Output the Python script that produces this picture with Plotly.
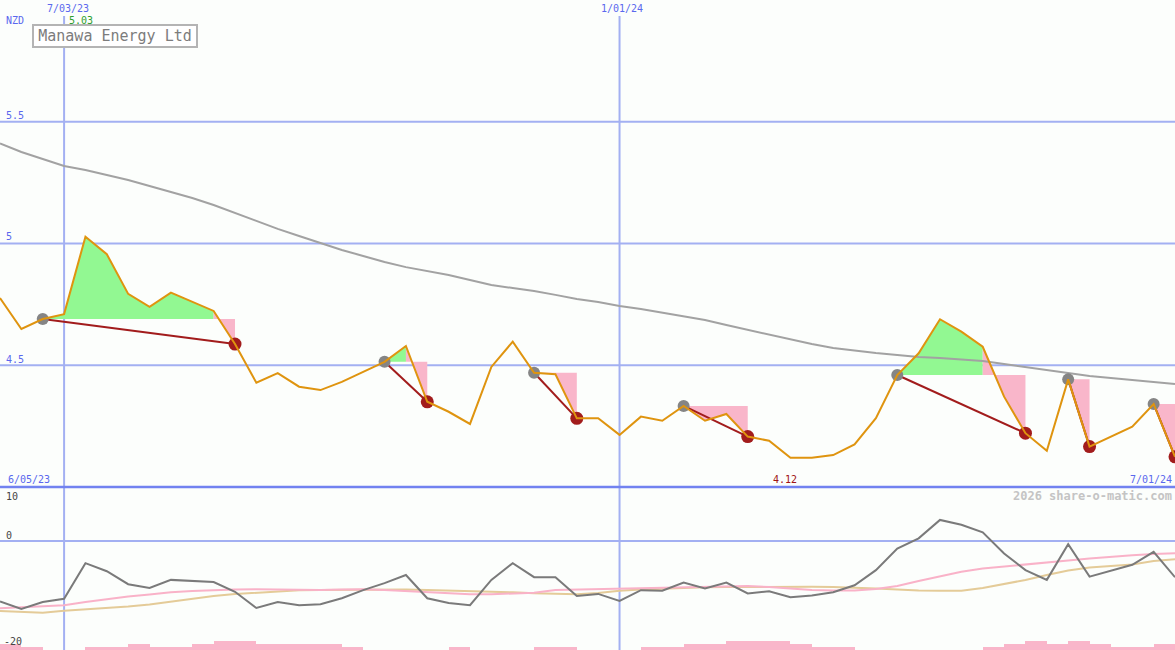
import pandas as pd
import plotly.graph_objects as go

# ---------------- data ----------------
dates = pd.date_range("2023-06-12", periods=56, freq="7D")

price = [4.776, 4.649, 4.690, 4.710, 5.028, 4.956, 4.793, 4.740, 4.798, 4.761,
         4.723, 4.587, 4.428, 4.468, 4.412, 4.398, 4.432, 4.473, 4.514, 4.579,
         4.350, 4.309, 4.259, 4.493, 4.597, 4.469, 4.463, 4.282, 4.282, 4.214,
         4.289, 4.272, 4.333, 4.272, 4.300, 4.207, 4.190, 4.120, 4.120, 4.131,
         4.175, 4.283, 4.460, 4.549, 4.689, 4.638, 4.576, 4.371, 4.221, 4.149,
         4.442, 4.166, 4.207, 4.248, 4.341, 4.124]

ma_long = [5.411, 5.376, 5.347, 5.318, 5.302, 5.281, 5.261, 5.236, 5.211, 5.187,
           5.158, 5.125, 5.093, 5.060, 5.031, 5.002, 4.973, 4.949, 4.924, 4.903,
           4.887, 4.871, 4.850, 4.830, 4.817, 4.805, 4.789, 4.772, 4.760, 4.743,
           4.731, 4.715, 4.702, 4.686, 4.665, 4.645, 4.624, 4.604, 4.587, 4.571,
           4.559, 4.550, 4.542, 4.534, 4.530, 4.522, 4.517, 4.505, 4.493, 4.480,
           4.468, 4.456, 4.448, 4.439, 4.431, 4.423]

peak_idx = [2, 18, 25, 32, 42, 50, 54]
trough_idx = [11, 20, 27, 35, 48, 51, 55]

osc = [-11.2, -12.6, -11.3, -10.7, -4.1, -5.6, -8.0, -8.7, -7.2, -7.4,
       -7.6, -9.4, -12.4, -11.3, -11.9, -11.7, -10.6, -9.1, -7.8, -6.3,
       -10.6, -11.5, -11.9, -7.2, -4.1, -6.7, -6.7, -10.2, -9.8, -11.1,
       -9.1, -9.2, -7.7, -8.8, -7.7, -9.7, -9.3, -10.4, -10.1, -9.5,
       -8.2, -5.4, -1.4, 0.5, 3.9, 3.0, 1.6, -2.3, -5.4, -7.2,
       -0.6, -6.6, -5.5, -4.4, -2.0, -6.7]

osc_ma1 = [-12.46, -12.31, -12.13, -11.91, -11.30, -10.74, -10.28, -9.91, -9.50, -9.26,
           -9.07, -8.98, -8.94, -8.98, -9.07, -9.07, -8.98, -8.94, -9.07, -9.26,
           -9.44, -9.63, -9.87, -9.87, -9.72, -9.57, -9.07, -8.98, -8.89, -8.76,
           -8.65, -8.57, -8.52, -8.43, -8.39, -8.33, -8.52, -8.80, -9.07, -9.17,
           -9.17, -8.89, -8.33, -7.41, -6.48, -5.69, -5.09, -4.69, -4.31, -3.98,
           -3.61, -3.24, -2.91, -2.65, -2.41, -2.28]

osc_ma2 = [-12.96, -13.15, -13.28, -12.91, -12.69, -12.41, -12.13, -11.76, -11.24, -10.65,
           -10.19, -9.81, -9.54, -9.31, -9.13, -9.07, -9.02, -8.98, -8.94, -8.98,
           -9.07, -9.17, -9.20, -9.31, -9.50, -9.69, -9.81, -9.87, -9.63, -9.20,
           -8.98, -8.80, -8.65, -8.56, -8.52, -8.48, -8.46, -8.46, -8.48, -8.52,
           -8.61, -8.80, -8.98, -9.17, -9.20, -9.20, -8.70, -7.96, -7.22, -6.30,
           -5.46, -4.91, -4.57, -4.35, -3.70, -3.39]

volume_level = [2, 1, 0, 0, 1, 1, 2, 1, 1, 2, 3, 3, 2, 2, 2, 2, 1, 0, 0, 0,
                0, 1, 0, 0, 0, 1, 1, 0, 0, 0, 1, 1, 2, 2, 3, 3, 3, 2, 1, 1,
                0, 0, 0, 0, 0, 0, 1, 2, 3, 2, 3, 2, 1, 1, 2]

marker_dates = ["2023-07-03", "2024-01-01"]
marker_labels = ["7/03/23", "1/01/24"]
price_ticks = [5.5, 5.0, 4.5]
price_tick_labels = ["5.5", "5", "4.5"]
osc_ticks_labels = ["10", "0", "-20"]

# ---------------- styles ----------------
W, H = 1175, 650
BG = "#fcfefc"
GRID = "#a3b0f2"
BLUE_TXT = "#5a68ee"
ORANGE = "#df940f"
GREEN_FILL = "#92f892"
PINK_FILL = "#f9b6ca"
DARK_RED = "#a21c1c"
GREY_DOT = "#858585"
MA_GREY = "#a2a2a2"
FONT = "DejaVu Sans Mono"

split = 1 - 487 / H  # boundary between panels (paper)

fig = go.Figure()

# signal fills
for g, r in zip(peak_idx, trough_idx):
    level = price[g]
    a = g
    for k in range(g, r + 1):
        if price[k] > level:
            a = k
    if a > g:
        xs = list(dates[g:a + 1]) + [dates[a], dates[g]]
        ys = price[g:a + 1] + [level, level]
        fig.add_trace(go.Scatter(x=xs, y=ys, mode="none", fill="toself",
                                 fillcolor=GREEN_FILL, hoverinfo="skip", showlegend=False))
    xs = list(dates[a:r + 1]) + [dates[r], dates[a]]
    ys = price[a:r + 1] + [level, level]
    fig.add_trace(go.Scatter(x=xs, y=ys, mode="none", fill="toself",
                             fillcolor=PINK_FILL, hoverinfo="skip", showlegend=False))

# long moving average
fig.add_trace(go.Scatter(x=dates, y=ma_long, mode="lines",
                         line=dict(color=MA_GREY, width=2), showlegend=False))

# peak -> trough connectors
for g, r in zip(peak_idx, trough_idx):
    fig.add_trace(go.Scatter(x=[dates[g], dates[r]], y=[price[g], price[r]], mode="lines",
                             line=dict(color=DARK_RED, width=2), showlegend=False))

fig.add_trace(go.Scatter(x=[dates[i] for i in peak_idx], y=[price[i] for i in peak_idx],
                         mode="markers", marker=dict(color=GREY_DOT, size=12),
                         showlegend=False))
fig.add_trace(go.Scatter(x=[dates[i] for i in trough_idx], y=[price[i] for i in trough_idx],
                         mode="markers", marker=dict(color=DARK_RED, size=13),
                         showlegend=False))

# price line
fig.add_trace(go.Scatter(x=dates, y=price, mode="lines",
                         line=dict(color=ORANGE, width=2), showlegend=False))

# lower panel
fig.add_trace(go.Scatter(x=dates, y=osc_ma2, mode="lines", xaxis="x", yaxis="y2",
                         line=dict(color="#e4cb98", width=2), showlegend=False))
fig.add_trace(go.Scatter(x=dates, y=osc_ma1, mode="lines", xaxis="x", yaxis="y2",
                         line=dict(color="#f9b2c8", width=2), showlegend=False))
fig.add_trace(go.Scatter(x=dates, y=osc, mode="lines", xaxis="x", yaxis="y2",
                         line=dict(color="#7a7a7a", width=2), showlegend=False))
fig.add_trace(go.Bar(x=list(dates[:-1]), y=volume_level, xaxis="x", yaxis="y3",
                     width=7 * 86400000, offset=0, marker=dict(color=PINK_FILL, line=dict(width=0)),
                     showlegend=False))

# grid shapes
shapes = []
for t in price_ticks:
    shapes.append(dict(type="line", xref="paper", yref="y", x0=0, x1=1, y0=t, y1=t,
                       line=dict(color=GRID, width=2), layer="below"))
shapes.append(dict(type="line", xref="paper", yref="y2", x0=0, x1=1, y0=0, y1=0,
                   line=dict(color=GRID, width=2), layer="below"))
for d in marker_dates:
    shapes.append(dict(type="line", xref="x", yref="paper", x0=d, x1=d, y0=0, y1=1 - 16 / H,
                       line=dict(color=GRID, width=2), layer="below"))
shapes.append(dict(type="line", xref="paper", yref="paper", x0=0, x1=1, y0=split, y1=split,
                   line=dict(color="#7282f0", width=2.5), layer="above"))


def px(x):
    return x / W


def py(y):
    return 1 - y / H


def txt(text, x, y, color, size=10, xanchor="left", bold=False):
    return dict(text=f"<b>{text}</b>" if bold else text, xref="paper", yref="paper",
                x=px(x), y=py(y), xanchor=xanchor, yanchor="middle", showarrow=False,
                font=dict(family=FONT, size=size, color=color), borderpad=0)


ann = []
for d, lab, xp in zip(marker_dates, marker_labels, [68, 622]):
    ann.append(txt(lab, xp, 9, BLUE_TXT, xanchor="center"))
ann.append(txt("NZD", 5, 21, BLUE_TXT))
ann.append(txt(f"{max(price):.2f}", 68, 21, "#2f9f2f"))
for t, lab, yp in zip(price_ticks, price_tick_labels, [116, 237, 359]):
    ann.append(txt(lab, 5, yp, BLUE_TXT))
ann.append(txt("6/05/23", 7, 479, BLUE_TXT))
ann.append(txt(f"{min(price):.2f}", 785, 479, "#a01414", xanchor="center"))
ann.append(txt("7/01/24", 1173, 479, BLUE_TXT, xanchor="right"))
ann.append(txt("2026 share-o-matic.com", 1173, 496, "#c4c4c4", size=12, xanchor="right", bold=True))
for lab, yp, xp in zip(osc_ticks_labels, [496, 535, 641], [5, 5, 3]):
    ann.append(txt(lab, xp, yp, "#454545"))
ann.append(dict(text="Manawa Energy Ltd", xref="paper", yref="paper", x=px(32), y=py(24),
                xanchor="left", yanchor="top", showarrow=False, width=158, height=16,
                font=dict(family=FONT, size=15, color="#7c7c7c"),
                bordercolor="#b4b4b4", borderwidth=2, borderpad=2, bgcolor="#ffffff"))

fig.update_layout(
    width=W, height=H, margin=dict(l=0, r=0, t=0, b=0),
    paper_bgcolor=BG, plot_bgcolor=BG, showlegend=False, hovermode=False,
    xaxis=dict(range=[dates[0], dates[-1]], visible=False, fixedrange=True),
    yaxis=dict(domain=[split, 1], range=[4, 6], visible=False),
    yaxis2=dict(domain=[0, split], range=[-20 - 1 / 5.4, 10], visible=False),
    yaxis3=dict(overlaying="y2", range=[0, (H - 487) / 3], visible=False),
    bargap=0,
    shapes=shapes, annotations=ann,
)

fig.write_html("out.html", config={"displayModeBar": False},
               post_script="document.body.style.margin='0';document.body.style.overflow='hidden';")
